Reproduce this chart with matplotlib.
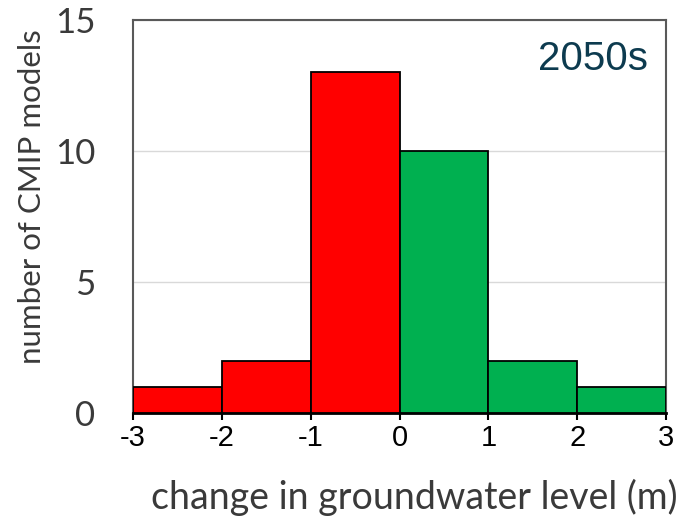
import matplotlib
matplotlib.use("Agg")
import matplotlib.pyplot as plt
import numpy as np

bin_edges = [-3, -2, -1, 0, 1, 2, 3]
counts = [1, 2, 13, 10, 2, 1]
bar_colors = ["#ff0000", "#ff0000", "#ff0000", "#00b050", "#00b050", "#00b050"]
x_ticks = [-3, -2, -1, 0, 1, 2, 3]
y_ticks = [0, 5, 10, 15]

W, H = 680, 516
fig = plt.figure(figsize=(6.8, 5.16), dpi=100)
ax = fig.add_axes([133/W, 1-413/H, (666-133)/W, (413-20)/H])

lefts = np.array(bin_edges[:-1])
widths = np.diff(bin_edges)
ax.bar(lefts, counts, width=widths, align="edge", color=bar_colors,
       edgecolor="black", linewidth=1.3, zorder=3)

ax.set_xlim(-3, 3)
ax.set_ylim(0, 15)
ax.set_xticks(x_ticks)
ax.set_xticklabels([str(t) for t in x_ticks], fontsize=21, family="Liberation Sans", color="black")
ax.set_yticks(y_ticks)
ax.set_yticklabels([str(t) for t in y_ticks], fontsize=25, family="Lato", color="#3a3a3a")
ax.tick_params(axis="y", length=0, pad=27)
ax.tick_params(axis="x", length=5, width=1.5, direction="out", pad=3, color="black")
ax.grid(axis="y", color="#d9d9d9", linewidth=1, zorder=0)
for s in ["top", "right", "left"]:
    ax.spines[s].set_color("#595959")
    ax.spines[s].set_linewidth(1.5)
ax.spines["bottom"].set_color("black")
ax.spines["bottom"].set_linewidth(2)

fig.text(32/W, 1-197/H, "number of CMIP models", rotation=90, ha="center", va="center",
         fontsize=22.5, family="Lato", color="#3a3a3a")
fig.text(414/W, 1-497/H, "change in groundwater level (m)", ha="center", va="center",
         fontsize=27, family="Lato", color="#3a3a3a")
ax.text(0.966, 0.95, "2050s", transform=ax.transAxes, ha="right", va="top",
        fontsize=29, family="Liberation Sans", color="#0d3b4f")

fig.savefig("out.png", dpi=100)
